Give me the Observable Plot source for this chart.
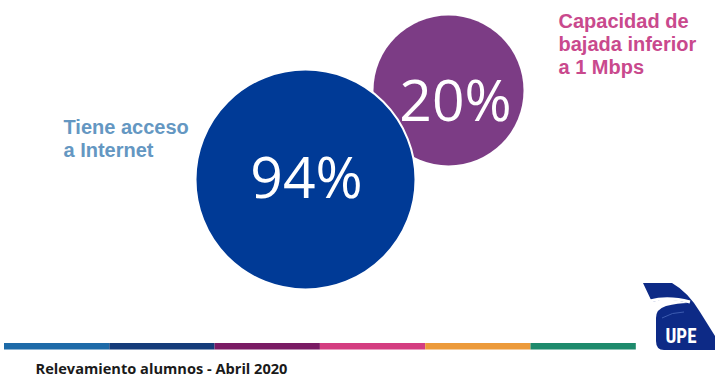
<!DOCTYPE html>
<html>
<head>
<meta charset="utf-8">
<script src="https://cdn.jsdelivr.net/npm/d3@7"></script>
<script src="https://cdn.jsdelivr.net/npm/@observablehq/plot@0.6"></script>
<style>
  html, body { margin: 0; padding: 0; background: #ffffff; }
  #wrap { position: relative; width: 715px; height: 376px; overflow: hidden; }
  #logo { position: absolute; left: 0; top: 0; }
</style>
</head>
<body>
<div id="wrap"></div>
<script>
// ---- data ----
const categories = ["Tiene acceso\na Internet", "Capacidad de\nbajada inferior\na 1 Mbps"];
const values = [94, 20];
const valueLabels = values.map(v => v + "%");
const stripeSegments = ["s1", "s2", "s3", "s4", "s5", "s6"];
const caption = "Relevamiento alumnos - Abril 2020";
const logoText = "UPE";

// ---- layout & style (not data) ----
const W = 715, H = 376;
const circleLayout = [
  {cx: 305, cy: 179, r: 110, fill: "#003a96", labelX: 63, labelY: 133 + 23, numX: 306, numY: 197, labelColor: "#6497c2"},
  {cx: 448, cy: 90, r: 75, fill: "#7c3c85", labelX: 558, labelY: 27 + 46, numX: 455, numY: 120, labelColor: "#c9498d"}
];
const stripeColors = ["#1d6aa8", "#153c7a", "#7a1b64", "#d43d80", "#ec9a3a", "#1d8a6c"];
const stripeX0 = 4, stripeSegW = 105.3, stripeY0 = 343, stripeY1 = 349.5;

const circles = values.map((v, i) => ({value: v, label: valueLabels[i], category: categories[i], ...circleLayout[i]}));
const stripe = stripeSegments.map((s, i) => ({id: s, x1: stripeX0 + i * stripeSegW, x2: stripeX0 + (i + 1) * stripeSegW, color: stripeColors[i]}));

const chart = Plot.plot({
  width: W,
  height: H,
  margin: 0,
  x: {domain: [0, W], range: [0, W], axis: null},
  y: {domain: [0, H], range: [0, H], axis: null},
  r: {type: "identity"},
  style: {background: "#ffffff"},
  marks: [
    Plot.dot([circles[1]], {x: "cx", y: "cy", r: "r", fill: "fill", stroke: "none"}),
    Plot.dot([circles[0]], {x: "cx", y: "cy", r: "r", fill: "fill", stroke: "#ffffff", strokeWidth: 2}),
    Plot.text(circles, {
      x: "numX", y: "numY", text: "label", fill: "#ffffff",
      fontSize: 57, fontWeight: 400, fontFamily: "'Open Sans', 'Noto Sans', sans-serif",
      textAnchor: "middle", lineAnchor: "bottom"
    }),
    Plot.text(circles, {
      x: "labelX", y: "labelY", text: "category", fill: "labelColor",
      fontSize: 20, fontWeight: "bold", fontFamily: "'Liberation Sans', Arial, sans-serif",
      textAnchor: "start", lineAnchor: "bottom", lineHeight: 1.15
    }),
    Plot.rect(stripe, {x1: "x1", x2: "x2", y1: stripeY0, y2: stripeY1, fill: "color"}),
    Plot.text([caption], {
      x: 35, y: 373, text: d => d, fill: "#1a1a1a",
      fontSize: 14.6, fontWeight: "bold", fontFamily: "'Open Sans', 'Noto Sans', sans-serif",
      textAnchor: "start", lineAnchor: "bottom"
    })
  ]
});
document.getElementById("wrap").appendChild(chart);

// decorative logo overlay
const ns = "http://www.w3.org/2000/svg";
const logo = document.createElementNS(ns, "svg");
logo.setAttribute("id", "logo");
logo.setAttribute("width", W);
logo.setAttribute("height", H);
logo.innerHTML = `
  <path d="M643 283 L672 283 Q688 292 700 312 L715 336 L715 350 L664 350 Q656 350 656 341 L656 318 Q656 309 666 306 Q678 303 688 303 Q674 298 660 300 L652 302 Z" fill="#0d2a86"/>
  <path d="M650 301 Q668 296 690 302" stroke="#ffffff" stroke-width="3" fill="none"/>
  <path d="M662 318 Q672 312 684 312" stroke="#3d5cb0" stroke-width="1" fill="none"/>
  <text x="681" y="343" text-anchor="middle" fill="#ffffff" font-family="'Liberation Sans Narrow','Roboto Condensed',Roboto,sans-serif" font-size="20" font-weight="bold" textLength="31" lengthAdjust="spacingAndGlyphs">${logoText}</text>
`;
document.getElementById("wrap").appendChild(logo);
</script>
</body>
</html>
